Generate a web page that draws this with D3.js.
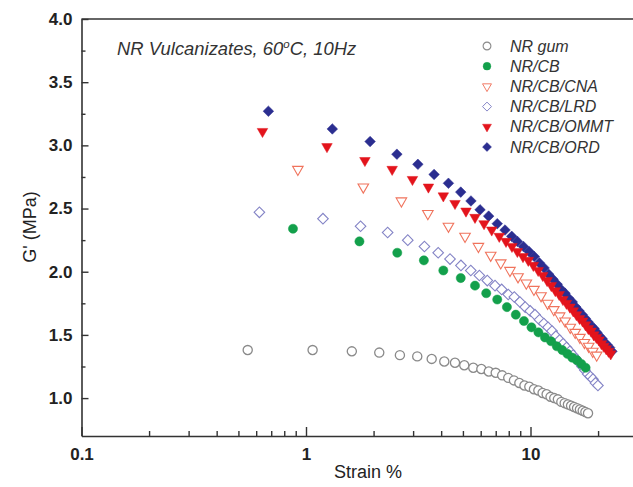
<!DOCTYPE html>
<html><head><meta charset="utf-8">
<script src="https://cdn.jsdelivr.net/npm/d3@7/dist/d3.min.js"></script>
<style>
html,body{margin:0;padding:0;background:#fff;}
svg{display:block;font-family:"Liberation Sans",Arial,sans-serif;}
</style></head>
<body>
<svg id="chart" width="633" height="487"></svg>
<script>
// ---- data ----
const seriesNames = ["NR gum","NR/CB","NR/CB/CNA","NR/CB/LRD","NR/CB/OMMT","NR/CB/ORD"];

const strainGum = [0.55,1.07,1.60,2.12,2.62,3.13,3.63,4.13,4.61,5.07,5.56,6.04,6.52,7.00,7.48,7.96,8.44,8.92,9.40,9.88,10.36,10.84,11.32,11.80,12.28,12.76,13.24,13.72,14.20,14.68,15.16,15.64,16.12,16.60,17.08,17.56,18.04];
const gGum = [1.38,1.38,1.37,1.36,1.34,1.33,1.31,1.29,1.28,1.26,1.24,1.23,1.21,1.20,1.18,1.16,1.14,1.12,1.10,1.09,1.07,1.06,1.04,1.03,1.01,1.00,0.99,0.97,0.96,0.95,0.94,0.93,0.92,0.91,0.90,0.89,0.88];

const strainCB = [0.875,1.73,2.55,3.35,4.09,4.89,5.66,6.35,7.11,7.85,8.60,9.35,10.10,10.85,11.60,12.35,13.10,13.85,14.60,15.35,16.10,16.85,17.60];
const gCB = [2.34,2.24,2.15,2.09,2.01,1.95,1.89,1.83,1.78,1.72,1.66,1.61,1.56,1.52,1.48,1.45,1.41,1.38,1.35,1.32,1.30,1.27,1.24];

const strainCNA = [0.92,1.80,2.66,3.49,4.31,5.11,5.86,6.65,7.37,8.10,8.80,9.58,10.36,11.14,11.92,12.70,13.48,14.26,15.04,15.82,16.60,17.38,18.16,18.94,19.72];
const gCNA = [2.81,2.67,2.56,2.46,2.36,2.28,2.20,2.13,2.07,2.01,1.96,1.91,1.86,1.81,1.75,1.70,1.65,1.61,1.56,1.52,1.48,1.44,1.41,1.37,1.34];

const strainLRD = [0.62,1.19,1.75,2.31,2.84,3.37,3.88,4.38,4.90,5.42,5.92,6.42,6.95,7.44,7.96,8.47,8.97,9.47,9.97,10.47,10.97,11.47,11.97,12.47,12.97,13.47,13.97,14.47,14.97,15.47,15.97,16.47,16.97,17.47,17.97,18.47,18.97,19.47,19.97];
const gLRD = [2.47,2.42,2.36,2.31,2.25,2.20,2.15,2.10,2.05,2.01,1.97,1.93,1.89,1.86,1.82,1.80,1.76,1.72,1.69,1.66,1.62,1.59,1.56,1.53,1.49,1.46,1.43,1.40,1.37,1.34,1.31,1.28,1.25,1.22,1.19,1.17,1.15,1.12,1.10];

const strainOMMT = [0.64,1.24,1.83,2.42,2.98,3.51,4.09,4.61,5.16,5.66,6.21,6.72,7.26,7.78,8.27,8.74,9.26,9.78,10.30,10.82,11.34,11.86,12.38,12.90,13.42,13.94,14.46,14.98,15.50,16.02,16.54,17.06,17.58,18.10,18.62,19.14,19.66,20.18,20.70,21.22,21.74,22.26,22.78];
const gOMMT = [3.11,2.99,2.88,2.81,2.73,2.67,2.60,2.54,2.48,2.43,2.38,2.33,2.28,2.24,2.20,2.16,2.12,2.09,2.05,2.01,1.97,1.93,1.89,1.85,1.82,1.78,1.75,1.72,1.69,1.66,1.63,1.61,1.58,1.55,1.53,1.50,1.48,1.46,1.43,1.41,1.39,1.37,1.35];

const strainORD = [0.68,1.31,1.93,2.54,3.15,3.72,4.31,4.89,5.43,5.96,6.51,7.11,7.70,8.25,8.74,9.30,9.85,10.40,10.95,11.50,12.05,12.60,13.15,13.70,14.25,14.80,15.35,15.90,16.45,17.00,17.55,18.10,18.65,19.20,19.75,20.30,20.85,21.40,21.95,22.50,23.05];
const gORD = [3.27,3.13,3.03,2.93,2.85,2.77,2.70,2.63,2.56,2.49,2.44,2.38,2.33,2.28,2.24,2.20,2.16,2.12,2.07,2.03,1.98,1.94,1.90,1.86,1.83,1.79,1.76,1.72,1.69,1.66,1.63,1.60,1.57,1.55,1.52,1.49,1.47,1.44,1.42,1.40,1.37];

const xTickValues = [0.1, 1, 10];
const xTickLabels = ["0.1", "1", "10"];
const yTickValues = [1.0, 1.5, 2.0, 2.5, 3.0, 3.5, 4.0];
const yMinorValues = [1.25, 1.75, 2.25, 2.75, 3.25, 3.75];
const xMinorValues = [0.2,0.3,0.4,0.5,0.6,0.7,0.8,0.9,2,3,4,5,6,7,8,9,20];

// ---- styles ----
const styles = {
  "NR gum":     {shape:"circle",   fill:"#ffffff", stroke:"#8a8a8a", sw:1.3},
  "NR/CB":      {shape:"circle",   fill:"#13a04b", stroke:"#13a04b", sw:0.5},
  "NR/CB/CNA":  {shape:"triangle", fill:"#ffffff", stroke:"#f0735c", sw:1.1},
  "NR/CB/LRD":  {shape:"diamond",  fill:"#ffffff", stroke:"#8484c6", sw:1.1},
  "NR/CB/OMMT": {shape:"triangle", fill:"#e3141c", stroke:"#e3141c", sw:0.5},
  "NR/CB/ORD":  {shape:"diamond",  fill:"#2b2e90", stroke:"#2b2e90", sw:0.5}
};

const series = [
  {name:"NR gum", x:strainGum, y:gGum},
  {name:"NR/CB/LRD", x:strainLRD, y:gLRD},
  {name:"NR/CB", x:strainCB, y:gCB},
  {name:"NR/CB/CNA", x:strainCNA, y:gCNA},
  {name:"NR/CB/ORD", x:strainORD, y:gORD},
  {name:"NR/CB/OMMT", x:strainOMMT, y:gOMMT}
];

const svg = d3.select("#chart");
const plotLeft = 81.5, plotTop = 19, plotBottom = 436;
const x = d3.scaleLog().domain([0.1, 30]).range([plotLeft, plotLeft + 224.5 * Math.log10(300)]);
const y = d3.scaleLinear().domain([0.7, 4.0]).range([plotBottom, plotTop]);

const symGen = {
  circle: d3.symbol().type(d3.symbolCircle).size(66),
  triangle: d3.symbol().type(d3.symbolTriangle).size(48),
  diamond: d3.symbol().type(d3.symbolSquare).size(56)
};
function marker(sel, name) {
  const st = styles[name];
  sel.attr("d", symGen[st.shape]())
     .attr("fill", st.fill).attr("stroke", st.stroke).attr("stroke-width", st.sw);
}
function rot(name){
  const s = styles[name].shape;
  return s === "triangle" ? " rotate(180)" : (s === "diamond" ? " rotate(45)" : "");
}

// ---- points ----
const gPts = svg.append("g");
series.forEach(s => {
  const data = s.x.map((v, i) => ({sx: v, gy: s.y[i]}));
  gPts.append("g").selectAll("path").data(data).join("path")
    .call(marker, s.name)
    .attr("transform", d => `translate(${x(d.sx)},${y(d.gy)})${rot(s.name)}`);
});

// ---- axes ----
const axisColor = "#333";
const tickFont = 17;
const yAxis = svg.append("g").attr("transform", `translate(${plotLeft},0)`)
  .call(d3.axisLeft(y).tickValues(yTickValues).tickSize(-7).tickSizeOuter(0).tickPadding(9)
        .tickFormat(d3.format(".1f")));
yAxis.select(".domain").attr("stroke", axisColor).attr("stroke-width", 1.6);
yAxis.selectAll(".tick line").attr("stroke", axisColor).attr("stroke-width", 1.4);
yAxis.selectAll(".tick text").attr("font-size", tickFont).attr("font-weight", "bold").attr("fill", "#222")
  .attr("font-family", "'Liberation Sans', Arial, sans-serif");

const yMinor = svg.append("g").attr("transform", `translate(${plotLeft},0)`)
  .call(d3.axisLeft(y).tickValues(yMinorValues).tickSize(-4).tickSizeOuter(0).tickFormat(""));
yMinor.select(".domain").remove();
yMinor.selectAll(".tick line").attr("stroke", axisColor).attr("stroke-width", 1.4);

const xAxis = svg.append("g").attr("transform", `translate(0,${plotBottom})`)
  .call(d3.axisBottom(x).tickValues(xTickValues).tickSize(-9).tickSizeOuter(0).tickPadding(12)
        .tickFormat((d, i) => xTickLabels[i]));
xAxis.select(".domain").attr("stroke", axisColor).attr("stroke-width", 1.6);
xAxis.selectAll(".tick line").attr("stroke", axisColor).attr("stroke-width", 1.4);
xAxis.selectAll(".tick text").attr("font-size", tickFont).attr("font-weight", "bold").attr("fill", "#222")
  .attr("font-family", "'Liberation Sans', Arial, sans-serif");

const xMinor = svg.append("g").attr("transform", `translate(0,${plotBottom})`)
  .call(d3.axisBottom(x).tickValues(xMinorValues).tickSize(-5).tickSizeOuter(0).tickFormat(""));
xMinor.select(".domain").remove();
xMinor.selectAll(".tick line").attr("stroke", axisColor).attr("stroke-width", 1.4);

// top border
svg.append("line").attr("x1", plotLeft).attr("x2", 633).attr("y1", plotTop).attr("y2", plotTop)
  .attr("stroke", axisColor).attr("stroke-width", 1.6);

// ---- axis titles ----
svg.append("text").attr("x", 368).attr("y", 478).attr("text-anchor", "middle")
  .attr("font-size", 18).attr("fill", "#222").text("Strain %");
svg.append("text").attr("transform", "translate(36,227) rotate(-90)").attr("text-anchor", "middle")
  .attr("font-size", 18).attr("fill", "#222").text("G' (MPa)");

// ---- title ----
const t = svg.append("text").attr("x", 117).attr("y", 55).attr("font-size", 18.4)
  .attr("font-style", "italic").attr("fill", "#333");
t.append("tspan").text("NR Vulcanizates, 60");
t.append("tspan").attr("font-size", 11.5).attr("dy", -7.5).text("o");
t.append("tspan").attr("dy", 7.5).text("C, 10Hz");

// ---- legend ----
const lg = svg.append("g");
seriesNames.forEach((n, i) => {
  const ly = 46 + i * 20.2;
  lg.append("path").call(marker, n)
    .attr("transform", `translate(487,${ly})${rot(n)} scale(0.85)`);
  lg.append("text").attr("x", 510).attr("y", ly + 5.5).attr("font-size", 16)
    .attr("font-style", "italic").attr("fill", "#333").text(n);
});
</script>
</body></html>
